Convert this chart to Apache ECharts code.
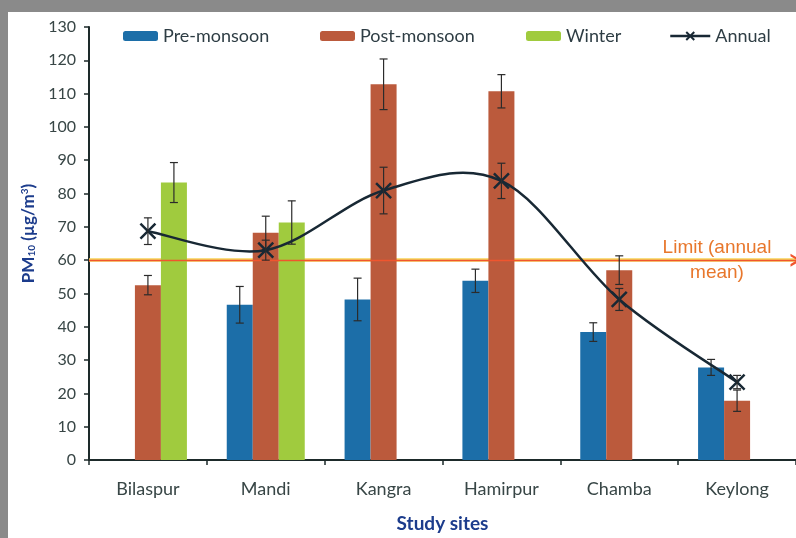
<!DOCTYPE html>
<html>
<head>
<meta charset="utf-8">
<script src="https://cdn.jsdelivr.net/npm/echarts@6/dist/echarts.min.js"></script>
<style>
  html, body { margin: 0; padding: 0; width: 796px; height: 538px; overflow: hidden; background: #8a8a8a; }
  #chart { position: absolute; left: 8px; top: 12px; width: 788px; height: 526px; background: #ffffff; }
</style>
</head>
<body>
<div id="chart"></div>
<script>
// PM10 concentrations per study site (µg/m³) with ± standard deviation
const categories = ['Bilaspur', 'Mandi', 'Kangra', 'Hamirpur', 'Chamba', 'Keylong'];
const preMonsoon    = [null, 46.6, 48.2, 53.8, 38.4, 27.8];
const preMonsoonErr = [null, 5.5, 6.4, 3.5, 2.8, 2.4];
const postMonsoon    = [52.5, 68.2, 112.8, 110.7, 57.0, 17.8];
const postMonsoonErr = [2.9, 5.0, 7.6, 5.0, 4.3, 3.2];
const winter    = [83.3, 71.3, null, null, null, null];
const winterErr = [6.0, 6.5, null, null, null, null];
const annual    = [68.7, 63.0, 80.9, 83.8, 48.2, 23.4];
const annualErr = [4.0, 3.0, 7.0, 5.3, 3.3, 2.0];
const limitValue = 60;
const yMin = 0, yMax = 130, yStep = 10;

const BAR_W = 26;
const FONT = 'Lato, "Open Sans", sans-serif';
const LINE_COLOR = '#182834';

// error bar drawn at a horizontal pixel offset from the category centre
function errorSeries(values, errs, offset, z) {
  const data = [];
  values.forEach((v, i) => {
    if (v != null && errs[i] != null) data.push([i, v - errs[i], v + errs[i]]);
  });
  return {
    type: 'custom',
    z: z,
    silent: true,
    data: data,
    renderItem: function (params, api) {
      const lo = api.coord([api.value(0), api.value(1)]);
      const hi = api.coord([api.value(0), api.value(2)]);
      const x = lo[0] + offset;
      const cap = 4;
      const style = { stroke: '#2b2b2b', lineWidth: 1.2 };
      return {
        type: 'group',
        children: [
          { type: 'line', shape: { x1: x, y1: lo[1], x2: x, y2: hi[1] }, style: style },
          { type: 'line', shape: { x1: x - cap, y1: lo[1], x2: x + cap, y2: lo[1] }, style: style },
          { type: 'line', shape: { x1: x - cap, y1: hi[1], x2: x + cap, y2: hi[1] }, style: style }
        ]
      };
    },
    encode: { x: 0, y: [1, 2] }
  };
}

// smoothed annual curve: cubic Bézier segments with Catmull-Rom style tangents
function smoothCurveSeries(values) {
  const n = values.length;
  return {
    type: 'custom',
    z: 7,
    silent: true,
    data: values.map((v, i) => [i, v]),
    renderItem: function (params, api) {
      const i = params.dataIndex;
      if (i >= n - 1) return { type: 'group', children: [] };
      const p = (k) => {
        const j = Math.max(0, Math.min(n - 1, k));
        return api.coord([j, values[j]]);
      };
      const p0 = p(i - 1), p1 = p(i), p2 = p(i + 1), p3 = p(i + 2);
      return {
        type: 'bezierCurve',
        shape: {
          x1: p1[0], y1: p1[1],
          cpx1: p1[0] + (p2[0] - p0[0]) / 6, cpy1: p1[1] + (p2[1] - p0[1]) / 6,
          cpx2: p2[0] - (p3[0] - p1[0]) / 6, cpy2: p2[1] - (p3[1] - p1[1]) / 6,
          x2: p2[0], y2: p2[1]
        },
        style: { stroke: LINE_COLOR, lineWidth: 2.5, fill: null }
      };
    },
    encode: { x: 0, y: 1 }
  };
}

const legendText = { color: '#2e3d44', fontSize: 18, fontFamily: FONT };
function legendAt(name, left, extra) {
  return Object.assign({
    data: [name], left: left, top: 15, padding: 0, itemWidth: 35, itemHeight: 10, itemGap: 8,
    textStyle: legendText
  }, extra || {});
}

const chart = echarts.init(document.getElementById('chart'));
chart.setOption({
  animation: false,
  backgroundColor: '#ffffff',
  grid: { left: 81, right: 0, top: 15, bottom: 71 },
  legend: [
    legendAt('Pre-monsoon', 115),
    legendAt('Post-monsoon', 312),
    legendAt('Winter', 518),
    legendAt('Annual', 661, {
      itemWidth: 40,
      lineStyle: { color: LINE_COLOR, width: 2.5, opacity: 1, type: 'solid' }
    })
  ],
  xAxis: {
    type: 'category',
    data: categories,
    boundaryGap: true,
    axisLine: { lineStyle: { color: '#1d2a2a', width: 2 } },
    axisTick: { show: true, length: 5, lineStyle: { color: '#1d2a2a', width: 1.5 } },
    axisLabel: { color: '#384646', fontSize: 18, fontFamily: FONT, margin: 20 },
    name: 'Study sites',
    nameLocation: 'middle',
    nameGap: 54,
    nameTextStyle: { color: '#1c3c8c', fontSize: 19, fontWeight: 'bold', fontFamily: FONT }
  },
  yAxis: {
    type: 'value',
    min: yMin, max: yMax, interval: yStep,
    splitLine: { show: false },
    axisLine: { show: true, lineStyle: { color: '#1d2a2a', width: 2 } },
    axisTick: { show: true, length: 5, lineStyle: { color: '#1d2a2a', width: 1.5 } },
    axisLabel: { color: '#384646', fontSize: 16, fontFamily: FONT, margin: 13 },
    name: 'PM{sub|10} (µg/m{sup|3})',
    nameLocation: 'middle',
    nameRotate: 90,
    nameGap: 52,
    nameTextStyle: {
      color: '#1c3c8c', fontSize: 17, fontWeight: 'bold', fontFamily: FONT,
      padding: [0, 0, 0, 20],
      rich: {
        sub: { fontSize: 10, fontWeight: 'bold', color: '#1c3c8c', fontFamily: FONT, verticalAlign: 'bottom', padding: [6, 0, 0, 0] },
        sup: { fontSize: 10, fontWeight: 'bold', color: '#1c3c8c', fontFamily: FONT, verticalAlign: 'top', padding: [0, 0, 6, 0] }
      }
    }
  },
  series: [
    {
      name: 'Pre-monsoon', type: 'bar', data: preMonsoon,
      barWidth: BAR_W, barGap: '0%',
      itemStyle: { color: '#1c6ea8' }
    },
    {
      name: 'Post-monsoon', type: 'bar', data: postMonsoon,
      barWidth: BAR_W, barGap: '0%',
      itemStyle: { color: '#bb5a3c' },
      markLine: {
        silent: true,
        // open chevron at the right end of the limit line
        symbol: ['none', 'path://M0,12L6,0L12,12L9.6,12L6,4.8L2.4,12Z'],
        symbolSize: [13, 11],
        symbolOffset: [-7, 0],
        data: [
          {
            yAxis: limitValue,
            lineStyle: { color: '#f0552e', width: 1.3, type: 'solid' },
            label: {
              show: true,
              position: 'insideEnd',
              distance: [20, 0],
              formatter: '{t|Limit (annual}\n{t|mean)}',
              rich: {
                t: { width: 118, align: 'center', color: '#e8772c', fontSize: 19, lineHeight: 25, fontFamily: '"Liberation Sans", Arial, sans-serif' }
              }
            }
          }
        ]
      }
    },
    {
      name: 'Winter', type: 'bar', data: winter,
      barWidth: BAR_W, barGap: '0%',
      itemStyle: { color: '#a0cb3e' },
      // soft yellow glow under the limit line
      markLine: {
        silent: true,
        symbol: ['none', 'none'],
        z: 1,
        label: { show: false },
        data: [{ yAxis: limitValue, lineStyle: { color: '#f6d35a', width: 3.5, type: 'solid' } }]
      }
    },
    errorSeries(preMonsoon, preMonsoonErr, -BAR_W, 5),
    errorSeries(postMonsoon, postMonsoonErr, 0, 5),
    errorSeries(winter, winterErr, BAR_W, 5),
    smoothCurveSeries(annual),
    {
      name: 'Annual', type: 'line', data: annual,
      z: 8,
      symbol: 'path://M0,0L10,10M10,0L0,10',
      symbolSize: 15,
      lineStyle: { color: LINE_COLOR, width: 2.5, opacity: 0 },
      itemStyle: { color: LINE_COLOR, borderColor: LINE_COLOR, borderWidth: 2.5 }
    },
    errorSeries(annual, annualErr, 0, 9)
  ]
});
</script>
</body>
</html>
